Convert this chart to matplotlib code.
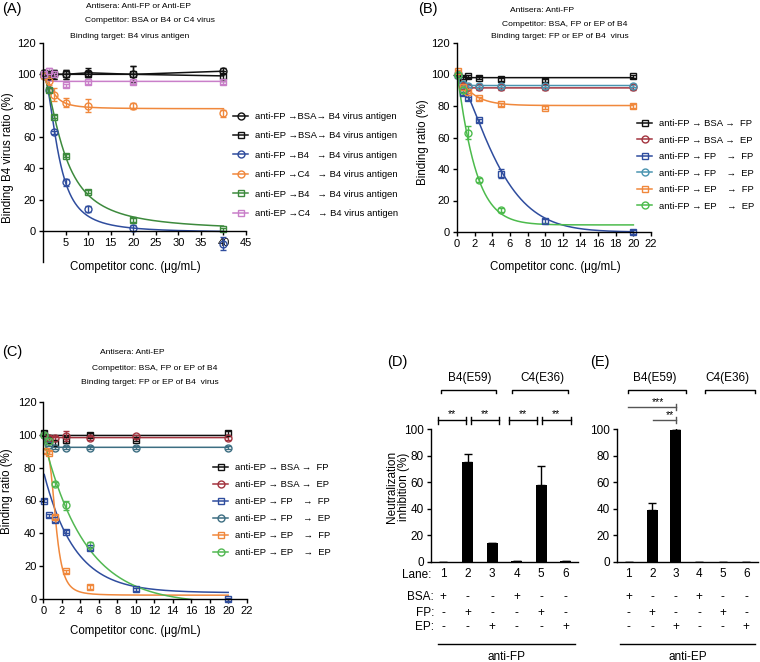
import numpy as np
import matplotlib.pyplot as plt
from matplotlib.lines import Line2D
from matplotlib.transforms import blended_transform_factory

plt.rcParams['font.family'] = ['Liberation Sans', 'DejaVu Sans']
plt.rcParams['axes.linewidth'] = 1.0
plt.rcParams['xtick.major.size'] = 3
plt.rcParams['ytick.major.size'] = 3
plt.rcParams['xtick.major.width'] = 1.0
plt.rcParams['ytick.major.width'] = 1.0
plt.rcParams['xtick.labelsize'] = 8
plt.rcParams['ytick.labelsize'] = 8

W, H = 760, 662

# ---------------- panel A: anti-FP / anti-EP vs B4 virus antigen
a_conc = [0.3, 1.25, 2.5, 5, 10, 20, 40]
a_labels = ['anti-FP \u2192BSA\u2192 B4 virus antigen',
            'anti-EP \u2192BSA\u2192 B4 virus antigen',
            'anti-FP \u2192B4   \u2192 B4 virus antigen',
            'anti-FP \u2192C4   \u2192 B4 virus antigen',
            'anti-EP \u2192B4   \u2192 B4 virus antigen',
            'anti-EP \u2192C4   \u2192 B4 virus antigen']
a_values = [[101, 99, 100, 100, 101, 100, 102],
            [100, 100, 100, 100, 100, 100, 99],
            [99, 90, 63, 31, 14, 2, -8],
            [99, 96, 87, 82, 80, 80, 75],
            [100, 90, 73, 48, 25, 7, 1],
            [100, 102, 100, 93, 95, 95, 95]]
a_errors = [[2, 2, 3, 3, 3, 5, 2],
            [1, 2, 3, 3, 2, 5, 3],
            [1, 1, 1, 2, 2, 2, 4],
            [1, 3, 4, 3, 4, 2, 2],
            [1, 1, 1, 1, 1, 1, 1],
            [1, 2, 1, 1, 1, 1, 1]]
# fitted curves (model, top, bottom, scale, shape); None -> straight segments
a_fits = [None, None,
          ('logistic', 100, -1, 3.4, 2.0),
          ('logistic', 100, 78, 2.2, 2.0),
          ('logistic', 100, 0, 4.7, 1.6),
          ('decay', 102, 95.5, 0.5, 1.0)]

# ---------------- panel B: anti-FP, competitor FP/EP of B4
b_conc = [0.1, 0.625, 1.25, 2.5, 5, 10, 20]
b_labels = ['anti-FP \u2192 BSA \u2192  FP',
            'anti-FP \u2192 BSA \u2192  EP',
            'anti-FP \u2192 FP    \u2192  FP',
            'anti-FP \u2192 FP    \u2192  EP',
            'anti-FP \u2192 EP    \u2192  FP',
            'anti-FP \u2192 EP    \u2192  EP']
b_values = [[100, 98, 99, 98, 97, 96, 99],
            [100, 93, 92, 92, 92, 92, 92],
            [100, 88, 85, 71, 37, 7, 0],
            [100, 94, 93, 93, 93, 93, 93],
            [102, 92, 89, 85, 81, 79, 80],
            [100, 90, 63, 33, 14, np.nan, np.nan]]
b_errors = [[1, 1, 1, 1, 1, 1, 1],
            [1, 2, 2, 2, 2, 2, 2],
            [1, 1, 1, 1, 3, 1, 1],
            [1, 1, 1, 1, 1, 1, 1],
            [1, 1, 1, 1, 1, 1, 1],
            [1, 2, 4, 1, 1, np.nan, np.nan]]
b_fits = [('decay', 101, 98, 0.3, 1.0),
          ('decay', 100, 91.5, 0.3, 1.0),
          ('decay', 100, 0, 5.22, 1.37),
          ('decay', 100, 93, 0.3, 1.0),
          ('decay', 101, 80.3, 1.75, 1.0),
          ('decay', 100, 4.5, 2.1, 1.1)]

# ---------------- panel C: anti-EP, competitor FP/EP of B4
c_conc = [0.1, 0.3125, 0.625, 1.25, 2.5, 5, 10, 20]
c_labels = [s.replace('anti-FP', 'anti-EP') for s in b_labels]
c_values = [[101, np.nan, 97, 95, 97, 100, 97, 101],
            [100, np.nan, 98, 98, 99, 98, 99, 98],
            [60, np.nan, 51, 48, 41, 31, 6, 0],
            [100, np.nan, 94, 92, 92, 92, 92, 92],
            [np.nan, 90, 89, 50, 17, 7.5, np.nan, np.nan],
            [100, np.nan, 96, 70, 57, 33, np.nan, np.nan]]
c_errors = [[1, np.nan, 1, 1, 2, 1, 1, 1],
            [1, np.nan, 1, 1, 3, 1, 1, 1],
            [1, np.nan, 1, 1, 1, 1, 1, 1],
            [1, np.nan, 1, 1, 1, 1, 1, 1],
            [np.nan, 1, 1, 1, 1, 1, np.nan, np.nan],
            [1, np.nan, 1, 1, 3, 2, np.nan, np.nan]]
c_fits = [('decay', 101, 99.5, 0.3, 1.0),
          ('decay', 100, 98.2, 0.3, 1.0),
          ('decay', 78, 4, 3.33, 1.0),
          ('decay', 100, 92.3, 0.3, 1.0),
          ('logistic', 91, 2.5, 1.35, 3.5),
          ('decay', 98, -3, 4.5, 1.0)]

# ---------------- panels D/E: neutralization inhibition
lanes = [1, 2, 3, 4, 5, 6]
d_inhibition = [0, 75, 14.5, 0.5, 58, 0.5]
d_err = [0, 6, 0, 0, 14, 0]
e_inhibition = [0, 39, 99, 0, 0, 0]
e_err = [0, 5, 2, 0, 0, 0]
row_names = ['BSA:', 'FP:', 'EP:']
row_signs = [['+', '-', '-', '+', '-', '-'],
             ['-', '+', '-', '-', '+', '-'],
             ['-', '-', '+', '-', '-', '+']]

a_colors = ['#111111', '#111111', '#2f4d9e', '#f0883c', '#3d8a3d', '#c97fc9']
a_markers = ['o', 's', 'o', 'o', 's', 's']
b_colors = ['#111111', '#a3343f', '#2f4d9e', '#4a94b0', '#f0883c', '#4cbb4c']
c_colors = ['#111111', '#a3343f', '#2f4d9e', '#3d6e82', '#f0883c', '#52b852']
bc_markers = ['s', 'o', 's', 'o', 's', 'o']

LW = 1.1


def curve_values(x, fit):
    model, top, bottom, scale, shape = fit
    if model == 'logistic':
        return bottom + (top - bottom) / (1 + (x / scale) ** shape)
    return bottom + (top - bottom) * np.exp(-(x / scale) ** shape)


def fx(px):
    return px / W


def fy(py):
    return 1 - py / H


def draw_series(ax, conc, values, errors, fits, colors, markers):
    conc = np.array(conc, dtype=float)
    # fitted curves span the whole concentration range of the panel
    xx = np.linspace(conc.min(), conc.max(), 500)
    for vals, errs, fit, c, m in zip(values, errors, fits, colors, markers):
        vals = np.array(vals, dtype=float)
        errs = np.array(errs, dtype=float)
        ok = ~np.isnan(vals)
        xs, ys = conc[ok], vals[ok]
        if fit is None:
            ax.plot(xs, ys, color=c, lw=LW)
        else:
            ax.plot(xx, curve_values(xx, fit), color=c, lw=LW)
        cont = ax.errorbar(xs, ys, yerr=errs[ok], fmt=m, color=c, mfc='none',
                           ms=5, mew=1, elinewidth=1, capsize=2.5)
        for art in cont.get_children():
            art.set_clip_on(False)


def add_legend(ax, labels, colors, markers, x, y, spacing):
    handles = [Line2D([0], [0], color=c, marker=m, mfc='none', ms=5, mew=1, lw=LW)
               for c, m in zip(colors, markers)]
    ax.legend(handles, labels, loc='upper left', bbox_to_anchor=(fx(x), fy(y)),
              bbox_transform=fig.transFigure, frameon=False, borderpad=0,
              borderaxespad=0, handlelength=1.6, handletextpad=0.75,
              labelspacing=spacing, fontsize=6.8)


def style_axes(ax):
    ax.spines['top'].set_visible(False)
    ax.spines['right'].set_visible(False)
    ax.tick_params(direction='out', pad=2)


fig = plt.figure(figsize=(7.6, 6.62), dpi=100)

# ---- A
axA = fig.add_axes([fx(43), fy(262.3), 203 / W, 219.3 / H])
style_axes(axA)
axA.spines['bottom'].set_position(('data', 0))
axA.set_xlim(0, 45)
axA.set_ylim(-20, 120)
axA.set_xticks(range(5, 50, 5))
axA.set_yticks(range(0, 140, 20))
draw_series(axA, a_conc, a_values, a_errors, a_fits, a_colors, a_markers)
add_legend(axA, a_labels, a_colors, a_markers, 233, 112, 1.1)

# ---- B
axB = fig.add_axes([fx(457), fy(232), 194 / W, 189 / H])
style_axes(axB)
axB.set_xlim(0, 22)
axB.set_ylim(0, 120)
axB.set_xticks(range(0, 24, 2))
axB.set_yticks(range(0, 140, 20))
draw_series(axB, b_conc, b_values, b_errors, b_fits, b_colors, bc_markers)
add_legend(axB, b_labels, b_colors, bc_markers, 637, 119, 0.8)

# ---- C
axC = fig.add_axes([fx(43.3), fy(599.3), 203.4 / W, 197.6 / H])
style_axes(axC)
axC.set_xlim(0, 22)
axC.set_ylim(0, 120)
axC.set_xticks(range(0, 24, 2))
axC.set_yticks(range(0, 140, 20))
draw_series(axC, c_conc, c_values, c_errors, c_fits, c_colors, bc_markers)
add_legend(axC, c_labels, c_colors, bc_markers, 213, 463, 0.85)

# axis labels and headers for A-C
fs_lab = 8.3
fig.text(fx(135), fy(267), 'Competitor conc. (\u03bcg/mL)', ha='center', va='center', fontsize=fs_lab)
fig.text(fx(555), fy(267), 'Competitor conc. (\u03bcg/mL)', ha='center', va='center', fontsize=fs_lab)
fig.text(fx(135), fy(631), 'Competitor conc. (\u03bcg/mL)', ha='center', va='center', fontsize=fs_lab)
fig.text(fx(8), fy(158), 'Binding B4 virus ratio (%)', rotation=90, ha='center', va='center', fontsize=fs_lab)
fig.text(fx(423), fy(142), 'Binding ratio (%)', rotation=90, ha='center', va='center', fontsize=fs_lab)
fig.text(fx(7), fy(491), 'Binding ratio (%)', rotation=90, ha='center', va='center', fontsize=fs_lab)

fs_head = 6.1
headers = [(139, 6.5, 'Antisera: Anti-FP or Anti-EP'),
           (150, 21, 'Competitor: BSA or B4 or C4 virus'),
           (130, 36, 'Binding target: B4 virus antigen'),
           (542, 10, 'Antisera: Anti-FP'),
           (565, 24, 'Competitor: BSA, FP or EP of B4'),
           (560, 36.5, 'Binding target: FP or EP of B4  virus'),
           (132, 353, 'Antisera: Anti-EP'),
           (155, 368, 'Competitor: BSA, FP or EP of B4'),
           (150, 382, 'Binding target: FP or EP of B4  virus')]
for x, y, s in headers:
    fig.text(fx(x), fy(y), s, ha='center', va='center', fontsize=fs_head)

for x, y, s in [(2, 9, '(A)'), (418, 9, '(B)'), (2, 352, '(C)'), (387, 362, '(D)'), (590, 362, '(E)')]:
    fig.text(fx(x), fy(y), s, ha='left', va='center', fontsize=10.5)

# ---- D / E
fs_de = 8.5


def draw_bars(ax, vals, errs):
    style_axes(ax)
    ax.bar(lanes, vals, width=0.46, color='black')
    ax.errorbar(lanes, vals, yerr=[np.zeros(len(errs)), errs], fmt='none',
                ecolor='black', elinewidth=1, capsize=3)
    ax.set_xlim(0.5, 6.5)
    ax.set_ylim(0, 100)
    ax.set_yticks(range(0, 120, 20))
    ax.set_xticks(lanes)
    ax.tick_params(axis='x', length=0, pad=4, labelsize=fs_de)
    ax.tick_params(axis='y', labelsize=fs_de)


axD = fig.add_axes([fx(431), fy(562), 147 / W, 133 / H])
draw_bars(axD, d_inhibition, d_err)
axE = fig.add_axes([fx(617), fy(562), 141 / W, 133 / H])
draw_bars(axE, e_inhibition, e_err)

fig.text(fx(398), fy(487), 'Neutralization\ninhibition (%)', rotation=90,
         ha='center', va='center', fontsize=fs_de, linespacing=1.0)

tD = blended_transform_factory(axD.transData, fig.transFigure)
tE = blended_transform_factory(axE.transData, fig.transFigure)

fig.text(fx(431), fy(575), 'Lane:', ha='right', va='center', fontsize=fs_de)
for name, py in zip(row_names, [597, 613, 627]):
    fig.text(fx(434), fy(py), name, ha='right', va='center', fontsize=fs_de)

for t, ax, underline, name in [(tD, axD, (0.79, 6.38), 'anti-FP'), (tE, axE, (0.63, 6.37), 'anti-EP')]:
    for signs, py in zip(row_signs, [597, 613, 627]):
        for lane, s in zip(lanes, signs):
            ax.text(lane, fy(py), s, transform=t, ha='center', va='center', fontsize=fs_de)
    ax.plot(underline, [fy(644)] * 2, transform=t, color='black', lw=1, clip_on=False)
    ax.text(np.mean(underline), fy(657), name, transform=t, ha='center', va='center', fontsize=fs_de)


def group_bracket(ax, t, x0, x1, label, xc):
    y = fy(390)
    yd = fy(393)
    ax.plot([x0, x0, x1, x1], [yd, y, y, yd], transform=t, color='black', lw=1, clip_on=False)
    ax.text(xc, fy(378), label, transform=t, ha='center', va='center', fontsize=fs_de)


group_bracket(axD, tD, 0.91, 3.15, 'B4(E59)', 2.09)
group_bracket(axD, tD, 3.81, 6.09, 'C4(E36)', 5.03)
group_bracket(axE, tE, 0.97, 3.44, 'B4(E59)', 2.1)
group_bracket(axE, tE, 4.24, 6.37, 'C4(E36)', 5.22)

# significance bars in D
for x0, x1 in [(0.8, 1.93), (2.13, 3.28), (3.68, 4.83), (5.03, 6.2)]:
    y = fy(420)
    h = 3.5 / H
    axD.plot([x0, x1], [y, y], transform=tD, color='black', lw=1, clip_on=False)
    for xe in (x0, x1):
        axD.plot([xe, xe], [y - h, y + h], transform=tD, color='black', lw=1, clip_on=False)
    axD.text((x0 + x1) / 2, fy(417), '**', transform=tD, ha='center', va='baseline', fontsize=7.5)

# significance bars in E
for x0, x1, py, star in [(0.97, 3.0, 406.5, '***'), (2.03, 3.0, 420, '**')]:
    y = fy(py)
    h = 3 / H
    axE.plot([x0, x1], [y, y], transform=tE, color='#555555', lw=1, clip_on=False)
    axE.plot([x1, x1], [y - h, y + h], transform=tE, color='#555555', lw=1, clip_on=False)
    axE.text((x0 + x1) / 2 + 0.25, fy(py - 1.5), star, transform=tE, ha='center', va='baseline', fontsize=7.5)

fig.savefig('out.png', dpi=100)
